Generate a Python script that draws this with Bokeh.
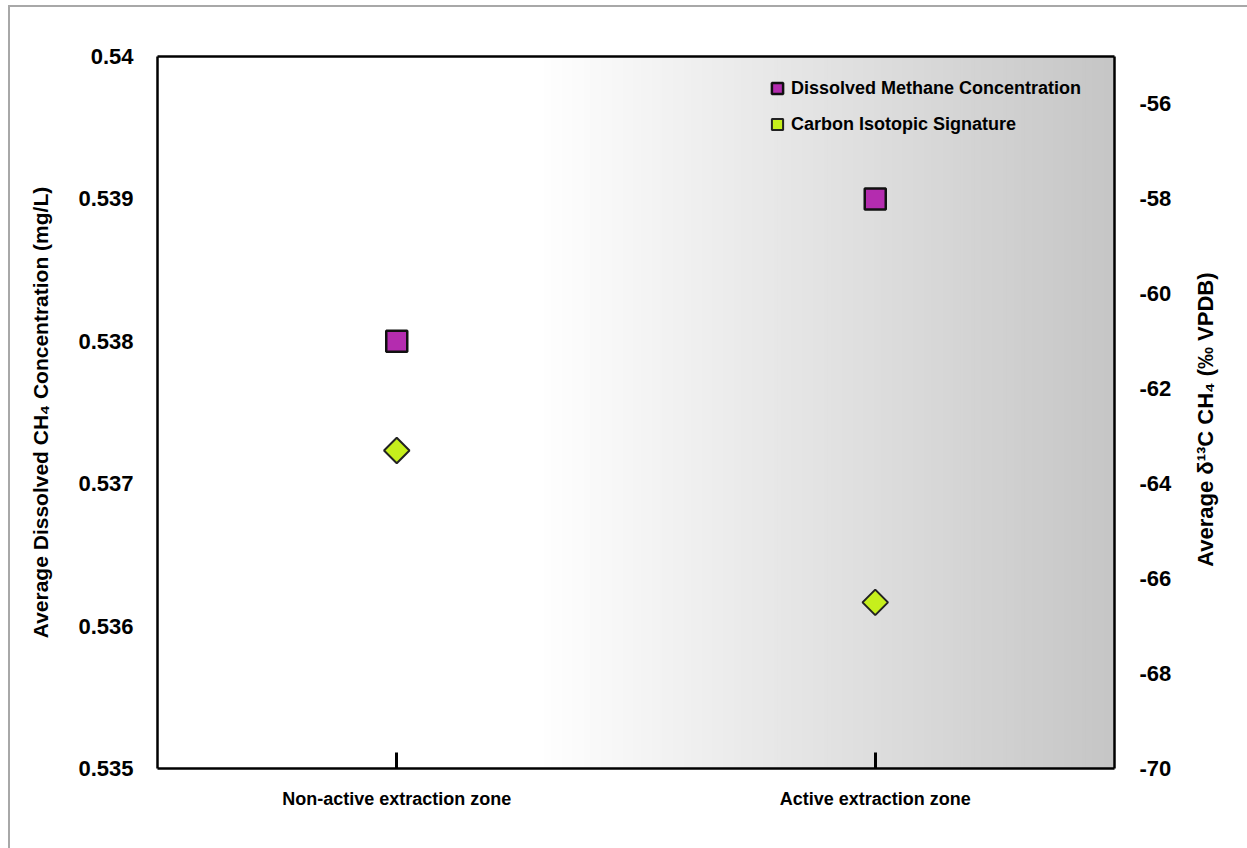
import math
import numpy as np
from bokeh.plotting import figure
from bokeh.layouts import row
from bokeh.models import (Range1d, FactorRange, LinearAxis, CategoricalAxis,
                          FixedTicker, NumeralTickFormatter, Legend, LegendItem,
                          Label)
from bokeh.embed import file_html
from bokeh.resources import INLINE

# ---- data ----
zones = ["Non-active extraction zone", "Active extraction zone"]
methane_conc = [0.538, 0.539]          # mg/L (left axis)
isotope_d13c = [-63.3, -66.5]          # permil VPDB (right axis)
left_ticks = [0.535, 0.536, 0.537, 0.538, 0.539, 0.540]
right_ticks = [-70, -68, -66, -64, -62, -60, -58, -56]
left_title = "Average Dissolved CH\u2084 Concentration (mg/L)"
right_title = "Average \u03b4\u00b9\u00b3C CH\u2084 (\u2030 VPDB)"

FONT = "Liberation Sans"

p = figure(
    x_range=FactorRange(*zones),
    y_range=Range1d(0.535, 0.540),
    width=1175, height=841,
    output_backend="svg", toolbar_location=None,
    min_border_left=147, min_border_right=71,
    min_border_top=49, min_border_bottom=80,
    background_fill_color="white", border_fill_color="white",
)
p.extra_y_ranges = {"iso": Range1d(-70, -55)}
p.xgrid.visible = False
p.ygrid.visible = False
p.outline_line_color = None

# ---- background gradient (white -> grey towards the right) ----
n = 160
edges = np.linspace(0.8, 2.0, n + 1)
shades = np.linspace(255, 198, n).astype(int)
cols = ["#%02x%02x%02x" % (s, s, s) for s in shades]
p.quad(left=edges[:-1], right=edges[1:] + 0.002, bottom=0.535, top=0.540,
       fill_color=cols, line_color=None, level="underlay")

# ---- markers ----
sq = p.scatter(x=zones, y=methane_conc, marker="square", size=21,
               fill_color="#b42caf", line_color="#111111", line_width=2.5)
dm = p.scatter(x=zones, y=isotope_d13c, marker="square", angle=math.pi / 4,
               size=18, fill_color="#c6ef1c", line_color="#222222",
               line_width=2, y_range_name="iso")

# ---- axes ----
xa = p.xaxis[0]
xa.axis_line_width = 2.5
xa.major_tick_in = 16
xa.major_tick_out = 0
xa.major_tick_line_width = 3
xa.minor_tick_line_color = None
xa.major_label_text_font = FONT
xa.major_label_text_font_style = "bold"
xa.major_label_text_font_size = "18px"
xa.major_label_standoff = 20
xa.major_label_text_color = "black"

top = CategoricalAxis(axis_line_width=2.5, axis_line_color="black",
                      major_tick_line_color=None, minor_tick_line_color=None,
                      major_label_text_color=None, major_label_text_font_size="1px")
p.add_layout(top, "above")

ya = p.yaxis[0]
ya.ticker = FixedTicker(ticks=left_ticks)
ya.formatter = NumeralTickFormatter(format="0.[000]")
ya.axis_line_width = 2.5
ya.major_tick_line_color = None
ya.minor_tick_line_color = None
ya.major_label_text_font = FONT
ya.major_label_text_font_style = "bold"
ya.major_label_text_font_size = "22px"
ya.major_label_text_color = "black"
ya.major_label_standoff = 18
ya.axis_label = left_title
ya.axis_label_text_font = FONT
ya.axis_label_text_font_style = "bold"
ya.axis_label_text_font_size = "21px"
ya.axis_label_text_color = "black"
ya.axis_label_standoff = 23

ra = LinearAxis(y_range_name="iso", ticker=FixedTicker(ticks=right_ticks))
ra.major_label_overrides = {t: str(t) for t in right_ticks}
ra.axis_line_color = "black"
ra.axis_line_width = 2.5
ra.major_tick_line_color = None
ra.minor_tick_line_color = None
ra.major_label_text_font = FONT
ra.major_label_text_font_style = "bold"
ra.major_label_text_font_size = "22px"
ra.major_label_text_color = "black"
ra.major_label_standoff = 19
p.add_layout(ra, "right")

# ---- legend ----
legend = Legend(
    items=[LegendItem(label="Dissolved Methane Concentration", renderers=[sq]),
           LegendItem(label="Carbon Isotopic Signature", renderers=[dm])],
    location=(606, 630), orientation="vertical",
    background_fill_alpha=0, border_line_color=None,
    padding=0, margin=0, spacing=8,
    glyph_width=28, glyph_height=28, label_standoff=-5,
    label_text_font=FONT, label_text_font_style="bold",
    label_text_font_size="18px", label_text_color="black",
)
p.add_layout(legend, "center")

# ---- strip holding the right-axis title (reads bottom-to-top) ----
side = figure(width=62, height=841, x_range=Range1d(0, 1), y_range=p.y_range,
              output_backend="svg", toolbar_location=None,
              x_axis_type=None, y_axis_type=None,
              min_border_left=0, min_border_right=0,
              min_border_top=49, min_border_bottom=80,
              background_fill_color="white", border_fill_color="white")
side.xgrid.visible = False
side.ygrid.visible = False
side.outline_line_color = None
side.add_layout(Label(x=0.32, y=0.53745, text=right_title, angle=math.pi / 2,
                      text_align="center", text_baseline="middle",
                      text_font=FONT, text_font_style="bold",
                      text_font_size="22px", text_color="black"))

layout = row(p, side, margin=(5, 0, 0, 8), spacing=0,
             styles={"border-left": "2px solid #a8a8a8",
                     "border-top": "2px solid #a8a8a8"})

open("out.html", "w").write(file_html(layout, INLINE))
